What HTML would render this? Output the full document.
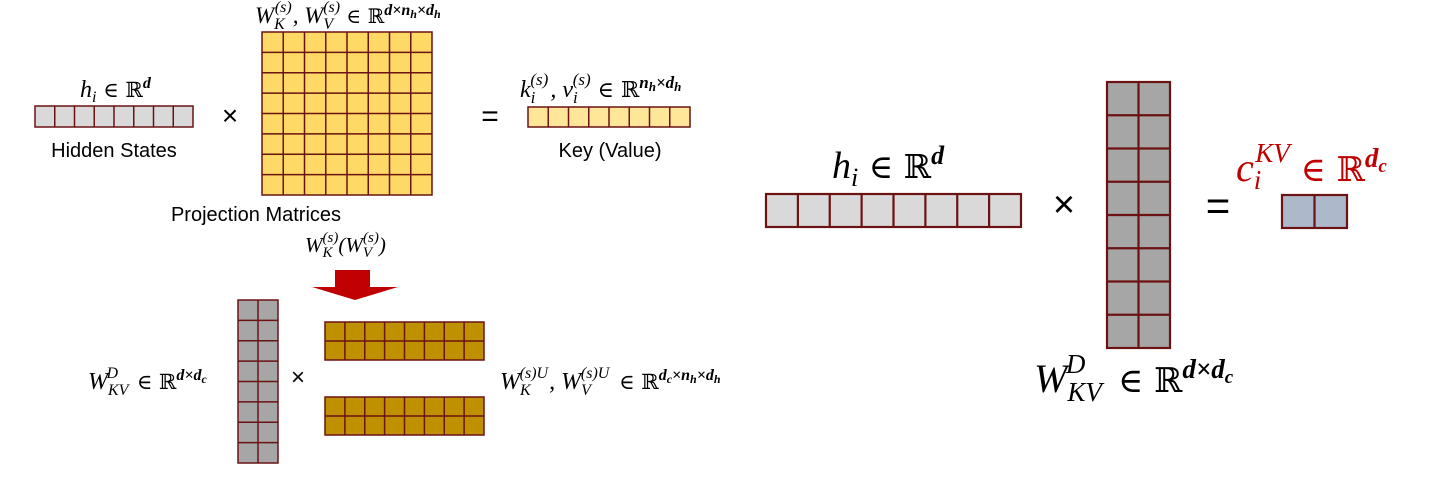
<!DOCTYPE html>
<html><head><meta charset="utf-8"><style>
html,body{margin:0;padding:0;background:#fff;}
svg{display:block;}
.m{font-family:"Liberation Serif","DejaVu Serif",serif;font-style:italic;}
.r{font-family:"DejaVu Serif",serif;font-style:normal;}
.s{font-family:"Liberation Sans",sans-serif;}
</style></head><body>
<svg width="1454" height="478" viewBox="0 0 1454 478" xmlns="http://www.w3.org/2000/svg">
<g stroke="#6b1212" stroke-width="1.5">
<rect x="35" y="106" width="158" height="21" fill="#d9d9d9"/>
<path d="M54.75 106V127M74.5 106V127M94.25 106V127M114 106V127M133.75 106V127M153.5 106V127M173.25 106V127"/>
<rect x="262" y="32" width="170" height="163" fill="#ffd966"/>
<path d="M283.25 32V195M304.5 32V195M325.75 32V195M347 32V195M368.25 32V195M389.5 32V195M410.75 32V195M262 52.4H432M262 72.75H432M262 93.1H432M262 113.5H432M262 133.9H432M262 154.25H432M262 174.6H432"/>
<rect x="528" y="107" width="162" height="20" fill="#ffe699"/>
<path d="M548.25 107V127M568.5 107V127M588.75 107V127M609 107V127M629.25 107V127M649.5 107V127M669.75 107V127"/>
<rect x="238" y="300" width="40" height="163" fill="#a6a6a6"/>
<path d="M258 300V463M238 320.4H278M238 340.75H278M238 361.1H278M238 381.5H278M238 401.9H278M238 422.25H278M238 442.6H278"/>
<rect x="325" y="322" width="159" height="38" fill="#bf9000"/>
<rect x="325" y="397" width="159" height="38" fill="#bf9000"/>
<path d="M344.9 322V360M364.75 322V360M384.6 322V360M404.5 322V360M424.4 322V360M444.25 322V360M464.1 322V360M325 341H484"/>
<path d="M344.9 397V435M364.75 397V435M384.6 397V435M404.5 397V435M424.4 397V435M444.25 397V435M464.1 397V435M325 416H484"/>
</g>
<g stroke="#6b1212" stroke-width="2.2">
<rect x="766" y="194" width="255" height="33" fill="#d9d9d9"/>
<path d="M797.9 194V227M829.75 194V227M861.6 194V227M893.5 194V227M925.4 194V227M957.25 194V227M989.1 194V227"/>
<rect x="1107" y="82" width="63" height="266" fill="#a6a6a6"/>
<path d="M1138.5 82V348M1107 115.25H1170M1107 148.5H1170M1107 181.75H1170M1107 215H1170M1107 248.25H1170M1107 281.5H1170M1107 314.75H1170"/>
<rect x="1282" y="195" width="65" height="33" fill="#adb9ca"/>
<path d="M1314.5 195V228"/>
</g>
<polygon points="335,270 370,270 370,287 398,287 355,300 312,287 335,287" fill="#c00000"/>

<text x="80" y="97" font-size="24" class="m">h<tspan font-size="16" dy="5">i</tspan><tspan class="r" dy="-5" font-size="21"> ∈ ℝ</tspan><tspan font-size="16" dy="-9" font-weight="bold">d</tspan></text>
<text x="114" y="157" font-size="20" class="s" text-anchor="middle">Hidden States</text>
<text x="230" y="125" font-size="28" class="s" text-anchor="middle">×</text>
<text x="490" y="126" font-size="30" class="s" text-anchor="middle">=</text>
<text x="255" y="23" font-size="23" class="m">W<tspan font-size="16" dy="6">K</tspan><tspan font-size="16" dx="-10" dy="-17">(s)</tspan><tspan dx="1" dy="11">, W</tspan><tspan font-size="16" dy="6">V</tspan><tspan font-size="16" dx="-10" dy="-17">(s)</tspan><tspan class="r" font-size="20" dy="11"> ∈ ℝ</tspan><tspan font-size="16" dy="-8" font-weight="bold">d×n<tspan font-size="12" dy="3">h</tspan><tspan dy="-3">×d</tspan><tspan font-size="12" dy="3">h</tspan></tspan></text>
<text x="256" y="221" font-size="20" class="s" text-anchor="middle">Projection Matrices</text>
<text x="520" y="97" font-size="24" class="m">k<tspan font-size="17" dy="6">i</tspan><tspan font-size="17" dx="-5" dy="-18">(s)</tspan><tspan dx="2" dy="12">, v</tspan><tspan font-size="17" dy="6">i</tspan><tspan font-size="17" dx="-5" dy="-18">(s)</tspan><tspan class="r" font-size="22" dy="12"> ∈ ℝ</tspan><tspan font-size="17" dy="-9" font-weight="bold">n<tspan font-size="13" dy="3">h</tspan><tspan dy="-3">×d</tspan><tspan font-size="13" dy="3">h</tspan></tspan></text>
<text x="610" y="157" font-size="20" class="s" text-anchor="middle">Key (Value)</text>
<text x="305" y="252" font-size="21" class="m">W<tspan font-size="15" dy="5">K</tspan><tspan font-size="15" dx="-10" dy="-15">(s)</tspan><tspan dy="10">(W</tspan><tspan font-size="15" dy="5">V</tspan><tspan font-size="15" dx="-9" dy="-15">(s)</tspan><tspan dy="10">)</tspan></text>
<text x="88" y="389" font-size="24" class="m">W<tspan font-size="16" dy="6">KV</tspan><tspan font-size="16" dx="-22" dy="-17">D</tspan><tspan class="r" font-size="21" dx="12" dy="11"> ∈ ℝ</tspan><tspan font-size="16" dy="-9" font-weight="bold">d×d<tspan font-size="12" dy="3">c</tspan></tspan></text>
<text x="298" y="385" font-size="24" class="s" text-anchor="middle">×</text>
<text x="500" y="389" font-size="24" class="m">W<tspan font-size="16" dy="6">K</tspan><tspan font-size="16" dx="-11" dy="-17">(s)U</tspan><tspan dx="1" dy="11">, W</tspan><tspan font-size="16" dy="6">V</tspan><tspan font-size="16" dx="-10" dy="-17">(s)U</tspan><tspan class="r" font-size="21" dx="3" dy="11"> ∈ ℝ</tspan><tspan font-size="16" dy="-9" font-weight="bold">d<tspan font-size="12" dy="3">c</tspan><tspan dy="-3">×n</tspan><tspan font-size="12" dy="3">h</tspan><tspan dy="-3">×d</tspan><tspan font-size="12" dy="3">h</tspan></tspan></text>

<text x="832" y="178" font-size="38" class="m">h<tspan font-size="26" dy="8">i</tspan><tspan class="r" font-size="33" dy="-8"> ∈ ℝ</tspan><tspan font-size="26" dy="-14" font-weight="bold">d</tspan></text>
<text x="1064" y="217" font-size="38" class="s" text-anchor="middle">×</text>
<text x="1218" y="220" font-size="42" class="s" text-anchor="middle">=</text>
<text x="1236" y="181" font-size="40" class="m" fill="#c00000">c<tspan font-size="27" dy="8">i</tspan><tspan font-size="27" dx="-6" dy="-27">KV</tspan><tspan class="r" font-size="34" dy="19"> ∈ ℝ</tspan><tspan font-size="27" dy="-14" font-weight="bold">d<tspan font-size="19" dy="5">c</tspan></tspan></text>
<text x="1034" y="392" font-size="40" class="m">W<tspan font-size="27" dy="9">KV</tspan><tspan font-size="27" dx="-36" dy="-28">D</tspan><tspan class="r" font-size="34" dx="22" dy="19"> ∈ ℝ</tspan><tspan font-size="27" dy="-14" font-weight="bold">d×d<tspan font-size="19" dy="5">c</tspan></tspan></text>
</svg>
</body></html>
